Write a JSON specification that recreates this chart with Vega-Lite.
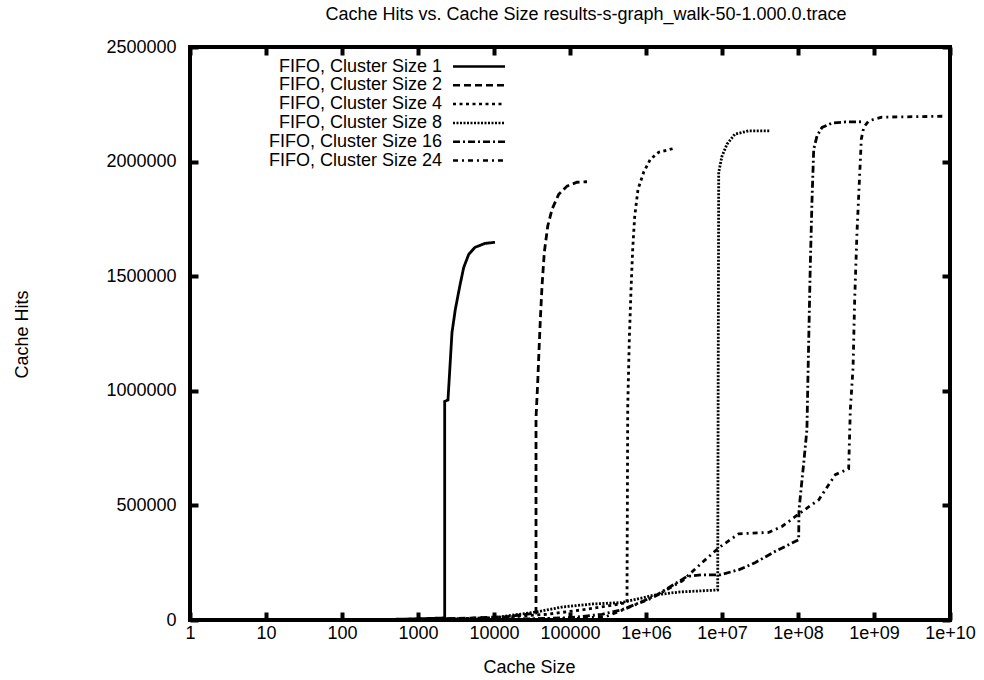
{
  "$schema": "https://vega.github.io/schema/vega-lite/v6.json",
  "width": 760,
  "height": 573,
  "autosize": {"type": "none"},
  "padding": {"left": 190, "top": 47, "right": 34, "bottom": 60},
  "background": "white",
  "title": {"text": "Cache Hits vs. Cache Size results-s-graph_walk-50-1.000.0.trace", "anchor": "middle", "dx": 16, "baseline": "middle", "offset": 5, "font": "Liberation Sans", "fontSize": 18, "fontWeight": "normal", "color": "black"},
  "config": {
    "view": {"stroke": "black", "strokeWidth": 4},
    "axis": {"labelFont": "Liberation Sans", "labelFontSize": 18, "labelColor": "black", "titleFont": "Liberation Sans", "titleFontSize": 18, "titleFontWeight": "normal", "titleColor": "black", "tickColor": "black", "tickWidth": 4, "tickSize": -8, "domain": false, "grid": false, "labelFlush": false, "labelOverlap": false},
    "legend": {"orient": "none", "legendX": 280, "legendY": 10.5, "symbolType": "M-5.2,0H5.2", "symbolSize": 100, "symbolStrokeWidth": 2.5, "symbolStrokeColor": "black", "labelFont": "Liberation Sans", "labelFontSize": 18, "labelColor": "black", "labelAlign": "right", "labelOffset": -46, "rowPadding": 0.8, "padding": 0, "labelLimit": 0}
  },
  "data": {"values": [
    {"series": "FIFO, Cluster Size 1", "i": 1, "size": 330, "hits": 2000},
    {"series": "FIFO, Cluster Size 1", "i": 2, "size": 1000, "hits": 5000},
    {"series": "FIFO, Cluster Size 1", "i": 3, "size": 2245, "hits": 9000},
    {"series": "FIFO, Cluster Size 1", "i": 4, "size": 2245, "hits": 954000},
    {"series": "FIFO, Cluster Size 1", "i": 5, "size": 2480, "hits": 960000},
    {"series": "FIFO, Cluster Size 1", "i": 6, "size": 2800, "hits": 1254000},
    {"series": "FIFO, Cluster Size 1", "i": 7, "size": 3097, "hits": 1355000},
    {"series": "FIFO, Cluster Size 1", "i": 8, "size": 3538, "hits": 1455000},
    {"series": "FIFO, Cluster Size 1", "i": 9, "size": 3993, "hits": 1538000},
    {"series": "FIFO, Cluster Size 1", "i": 10, "size": 4645, "hits": 1595000},
    {"series": "FIFO, Cluster Size 1", "i": 11, "size": 5623, "hits": 1626000},
    {"series": "FIFO, Cluster Size 1", "i": 12, "size": 7620, "hits": 1643000},
    {"series": "FIFO, Cluster Size 1", "i": 13, "size": 10300, "hits": 1648000},

    {"series": "FIFO, Cluster Size 2", "i": 1, "size": 330, "hits": 1000},
    {"series": "FIFO, Cluster Size 2", "i": 2, "size": 1000, "hits": 4000},
    {"series": "FIFO, Cluster Size 2", "i": 3, "size": 5000, "hits": 8000},
    {"series": "FIFO, Cluster Size 2", "i": 4, "size": 15000, "hits": 15000},
    {"series": "FIFO, Cluster Size 2", "i": 5, "size": 35700, "hits": 30000},
    {"series": "FIFO, Cluster Size 2", "i": 6, "size": 35700, "hits": 880000},
    {"series": "FIFO, Cluster Size 2", "i": 7, "size": 37600, "hits": 1036000},
    {"series": "FIFO, Cluster Size 2", "i": 8, "size": 38800, "hits": 1150000},
    {"series": "FIFO, Cluster Size 2", "i": 9, "size": 40700, "hits": 1310000},
    {"series": "FIFO, Cluster Size 2", "i": 10, "size": 42800, "hits": 1455000},
    {"series": "FIFO, Cluster Size 2", "i": 11, "size": 45900, "hits": 1604000},
    {"series": "FIFO, Cluster Size 2", "i": 12, "size": 50900, "hits": 1718000},
    {"series": "FIFO, Cluster Size 2", "i": 13, "size": 58000, "hits": 1792000},
    {"series": "FIFO, Cluster Size 2", "i": 14, "size": 71000, "hits": 1857000},
    {"series": "FIFO, Cluster Size 2", "i": 15, "size": 91400, "hits": 1893000},
    {"series": "FIFO, Cluster Size 2", "i": 16, "size": 123600, "hits": 1910000},
    {"series": "FIFO, Cluster Size 2", "i": 17, "size": 167400, "hits": 1912000},

    {"series": "FIFO, Cluster Size 4", "i": 1, "size": 330, "hits": 1000},
    {"series": "FIFO, Cluster Size 4", "i": 2, "size": 2000, "hits": 4000},
    {"series": "FIFO, Cluster Size 4", "i": 3, "size": 10000, "hits": 10000},
    {"series": "FIFO, Cluster Size 4", "i": 4, "size": 50000, "hits": 25000},
    {"series": "FIFO, Cluster Size 4", "i": 5, "size": 150000, "hits": 45000},
    {"series": "FIFO, Cluster Size 4", "i": 6, "size": 300000, "hits": 60000},
    {"series": "FIFO, Cluster Size 4", "i": 7, "size": 562000, "hits": 76000},
    {"series": "FIFO, Cluster Size 4", "i": 8, "size": 575000, "hits": 930000},
    {"series": "FIFO, Cluster Size 4", "i": 9, "size": 603000, "hits": 1224000},
    {"series": "FIFO, Cluster Size 4", "i": 10, "size": 635000, "hits": 1442000},
    {"series": "FIFO, Cluster Size 4", "i": 11, "size": 668000, "hits": 1617000},
    {"series": "FIFO, Cluster Size 4", "i": 12, "size": 710000, "hits": 1761000},
    {"series": "FIFO, Cluster Size 4", "i": 13, "size": 785000, "hits": 1879000},
    {"series": "FIFO, Cluster Size 4", "i": 14, "size": 933000, "hits": 1954000},
    {"series": "FIFO, Cluster Size 4", "i": 15, "size": 1140000, "hits": 2010000},
    {"series": "FIFO, Cluster Size 4", "i": 16, "size": 1470000, "hits": 2041000},
    {"series": "FIFO, Cluster Size 4", "i": 17, "size": 2430000, "hits": 2059000},

    {"series": "FIFO, Cluster Size 8", "i": 1, "size": 1000, "hits": 2000},
    {"series": "FIFO, Cluster Size 8", "i": 2, "size": 10000, "hits": 10000},
    {"series": "FIFO, Cluster Size 8", "i": 3, "size": 36000, "hits": 35000},
    {"series": "FIFO, Cluster Size 8", "i": 4, "size": 80000, "hits": 57000},
    {"series": "FIFO, Cluster Size 8", "i": 5, "size": 200000, "hits": 70000},
    {"series": "FIFO, Cluster Size 8", "i": 6, "size": 480000, "hits": 76000},
    {"series": "FIFO, Cluster Size 8", "i": 7, "size": 1300000, "hits": 109000},
    {"series": "FIFO, Cluster Size 8", "i": 8, "size": 2700000, "hits": 122000},
    {"series": "FIFO, Cluster Size 8", "i": 9, "size": 8780000, "hits": 131000},
    {"series": "FIFO, Cluster Size 8", "i": 10, "size": 9050000, "hits": 1954000},
    {"series": "FIFO, Cluster Size 8", "i": 11, "size": 10000000, "hits": 2024000},
    {"series": "FIFO, Cluster Size 8", "i": 12, "size": 11640000, "hits": 2076000},
    {"series": "FIFO, Cluster Size 8", "i": 13, "size": 14800000, "hits": 2120000},
    {"series": "FIFO, Cluster Size 8", "i": 14, "size": 22400000, "hits": 2134000},
    {"series": "FIFO, Cluster Size 8", "i": 15, "size": 43200000, "hits": 2134000},

    {"series": "FIFO, Cluster Size 16", "i": 1, "size": 1000, "hits": 1000},
    {"series": "FIFO, Cluster Size 16", "i": 2, "size": 30000, "hits": 5000},
    {"series": "FIFO, Cluster Size 16", "i": 3, "size": 100000, "hits": 10000},
    {"series": "FIFO, Cluster Size 16", "i": 4, "size": 264000, "hits": 25000},
    {"series": "FIFO, Cluster Size 16", "i": 5, "size": 483000, "hits": 45000},
    {"series": "FIFO, Cluster Size 16", "i": 6, "size": 886000, "hits": 80000},
    {"series": "FIFO, Cluster Size 16", "i": 7, "size": 1400000, "hits": 110000},
    {"series": "FIFO, Cluster Size 16", "i": 8, "size": 3460000, "hits": 190000},
    {"series": "FIFO, Cluster Size 16", "i": 9, "size": 5460000, "hits": 197000},
    {"series": "FIFO, Cluster Size 16", "i": 10, "size": 9420000, "hits": 197000},
    {"series": "FIFO, Cluster Size 16", "i": 11, "size": 16600000, "hits": 219000},
    {"series": "FIFO, Cluster Size 16", "i": 12, "size": 27200000, "hits": 250000},
    {"series": "FIFO, Cluster Size 16", "i": 13, "size": 49800000, "hits": 299000},
    {"series": "FIFO, Cluster Size 16", "i": 14, "size": 102000000, "hits": 350000},
    {"series": "FIFO, Cluster Size 16", "i": 15, "size": 103000000, "hits": 480000},
    {"series": "FIFO, Cluster Size 16", "i": 16, "size": 119000000, "hits": 686000},
    {"series": "FIFO, Cluster Size 16", "i": 17, "size": 131000000, "hits": 830000},
    {"series": "FIFO, Cluster Size 16", "i": 18, "size": 135000000, "hits": 1050000},
    {"series": "FIFO, Cluster Size 16", "i": 19, "size": 145000000, "hits": 1543000},
    {"series": "FIFO, Cluster Size 16", "i": 20, "size": 153000000, "hits": 1836000},
    {"series": "FIFO, Cluster Size 16", "i": 21, "size": 161000000, "hits": 2054000},
    {"series": "FIFO, Cluster Size 16", "i": 22, "size": 178000000, "hits": 2112000},
    {"series": "FIFO, Cluster Size 16", "i": 23, "size": 207000000, "hits": 2149000},
    {"series": "FIFO, Cluster Size 16", "i": 24, "size": 280000000, "hits": 2168000},
    {"series": "FIFO, Cluster Size 16", "i": 25, "size": 419000000, "hits": 2173000},
    {"series": "FIFO, Cluster Size 16", "i": 26, "size": 740000000, "hits": 2174000},

    {"series": "FIFO, Cluster Size 24", "i": 1, "size": 1000, "hits": 1000},
    {"series": "FIFO, Cluster Size 24", "i": 2, "size": 100000, "hits": 5000},
    {"series": "FIFO, Cluster Size 24", "i": 3, "size": 300000, "hits": 15000},
    {"series": "FIFO, Cluster Size 24", "i": 4, "size": 1200000, "hits": 96000},
    {"series": "FIFO, Cluster Size 24", "i": 5, "size": 2980000, "hits": 170000},
    {"series": "FIFO, Cluster Size 24", "i": 6, "size": 5460000, "hits": 250000},
    {"series": "FIFO, Cluster Size 24", "i": 7, "size": 9050000, "hits": 315000},
    {"series": "FIFO, Cluster Size 24", "i": 8, "size": 16600000, "hits": 376000},
    {"series": "FIFO, Cluster Size 24", "i": 9, "size": 41100000, "hits": 382000},
    {"series": "FIFO, Cluster Size 24", "i": 10, "size": 61500000, "hits": 408000},
    {"series": "FIFO, Cluster Size 24", "i": 11, "size": 113000000, "hits": 473000},
    {"series": "FIFO, Cluster Size 24", "i": 12, "size": 187000000, "hits": 524000},
    {"series": "FIFO, Cluster Size 24", "i": 13, "size": 310000000, "hits": 634000},
    {"series": "FIFO, Cluster Size 24", "i": 14, "size": 464000000, "hits": 660000},
    {"series": "FIFO, Cluster Size 24", "i": 15, "size": 488000000, "hits": 918000},
    {"series": "FIFO, Cluster Size 24", "i": 16, "size": 530000000, "hits": 1100000},
    {"series": "FIFO, Cluster Size 24", "i": 17, "size": 557000000, "hits": 1400000},
    {"series": "FIFO, Cluster Size 24", "i": 18, "size": 597000000, "hits": 1690000},
    {"series": "FIFO, Cluster Size 24", "i": 19, "size": 641000000, "hits": 1910000},
    {"series": "FIFO, Cluster Size 24", "i": 20, "size": 681000000, "hits": 2098000},
    {"series": "FIFO, Cluster Size 24", "i": 21, "size": 733000000, "hits": 2150000},
    {"series": "FIFO, Cluster Size 24", "i": 22, "size": 852000000, "hits": 2178000},
    {"series": "FIFO, Cluster Size 24", "i": 23, "size": 1270000000, "hits": 2194000},
    {"series": "FIFO, Cluster Size 24", "i": 24, "size": 3460000000, "hits": 2196000},
    {"series": "FIFO, Cluster Size 24", "i": 25, "size": 8600000000, "hits": 2198000}
  ]},
  "layer": [
    {
      "mark": {"type": "line", "strokeWidth": 2.8, "color": "black", "clip": true},
      "encoding": {
        "x": {"field": "size", "type": "quantitative", "scale": {"type": "log", "domain": [1, 10000000000], "nice": false},
          "axis": {"orient": "bottom", "values": [1, 10, 100, 1000, 10000, 100000, 1000000, 10000000, 100000000, 1000000000, 10000000000], "labelExpr": "datum.value < 1000000 ? format(datum.value, 'd') : '1e+' + (datum.value < 9000000000 ? '0' : '') + format(log(datum.value) / log(10), '.0f')", "labelPadding": 12, "title": "Cache Size", "titleX": 339, "titleY": 47, "titleBaseline": "middle"}},
        "y": {"field": "hits", "type": "quantitative", "scale": {"domain": [0, 2500000], "nice": false},
          "axis": {"orient": "left", "values": [0, 500000, 1000000, 1500000, 2000000, 2500000], "format": "d", "labelPadding": 22, "title": "Cache Hits", "titleX": -168, "titleY": 287, "titleBaseline": "middle", "titleAngle": -90}},
        "strokeDash": {"field": "series", "type": "nominal",
          "scale": {"domain": ["FIFO, Cluster Size 1", "FIFO, Cluster Size 2", "FIFO, Cluster Size 4", "FIFO, Cluster Size 8", "FIFO, Cluster Size 16", "FIFO, Cluster Size 24"],
            "range": [[1, 0], [7, 4], [3, 3.5], [2, 1.5], [7, 3, 2, 3], [5, 4, 2, 4]]},
          "legend": {"title": null}},
        "order": {"field": "i", "type": "quantitative"}
      }
    },
    {
      "mark": {"type": "line", "opacity": 0},
      "encoding": {
        "x": {"field": "size", "type": "quantitative", "scale": {"type": "log", "domain": [1, 10000000000], "nice": false},
          "axis": {"orient": "top", "values": [1, 10, 100, 1000, 10000, 100000, 1000000, 10000000, 100000000, 1000000000, 10000000000], "labels": false, "title": null}},
        "y": {"field": "hits", "type": "quantitative", "scale": {"domain": [0, 2500000], "nice": false},
          "axis": {"orient": "right", "values": [0, 500000, 1000000, 1500000, 2000000, 2500000], "labels": false, "title": null}},
        "detail": {"field": "series", "type": "nominal"}
      }
    }
  ],
  "resolve": {"axis": {"x": "independent", "y": "independent"}}
}
